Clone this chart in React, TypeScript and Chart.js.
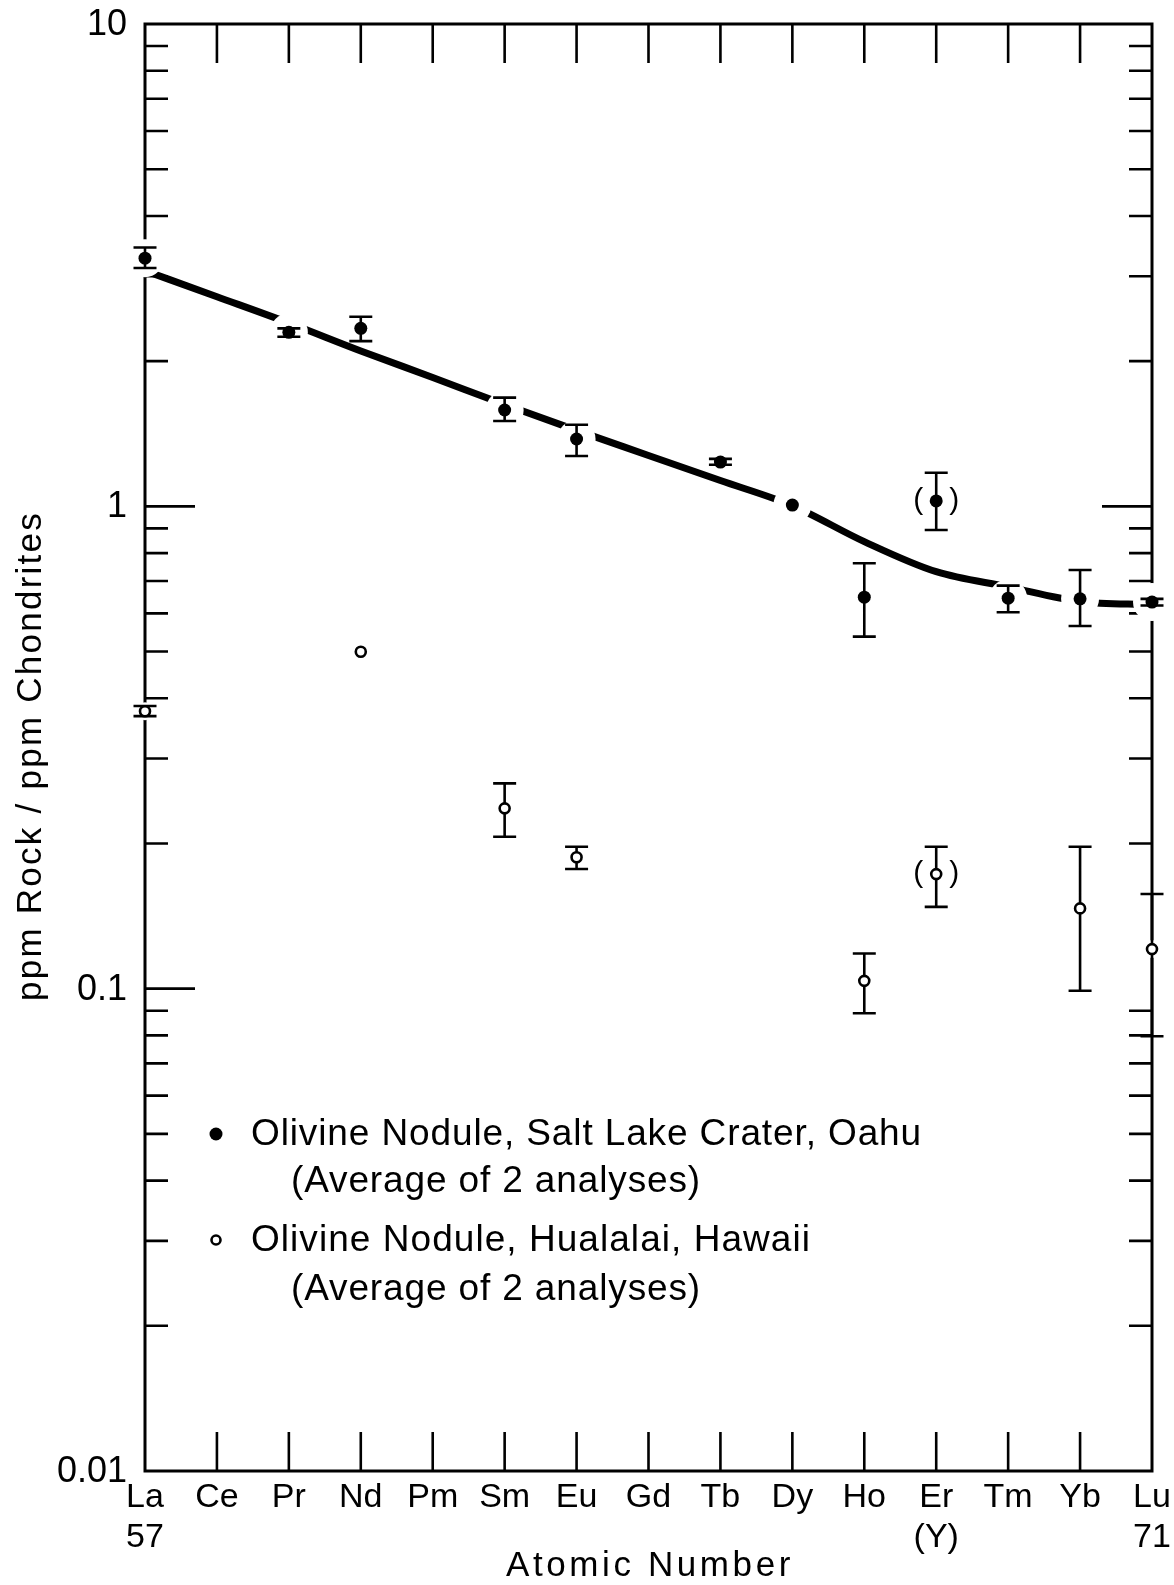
import React, { useEffect, useRef } from 'react';
import { Chart, registerables } from 'chart.js';

Chart.register(...registerables);

// ---------------- data ----------------
const ELEMENTS = ['La', 'Ce', 'Pr', 'Nd', 'Pm', 'Sm', 'Eu', 'Gd', 'Tb', 'Dy', 'Ho', 'Er', 'Tm', 'Yb', 'Lu'];
const SUBLABELS = ['57', '', '', '', '', '', '', '', '', '', '', '(Y)', '', '', '71'];
const Y_TICK_VALUES = [10, 1, 0.1, 0.01];
const Y_TICK_LABELS = ['10', '1', '0.1', '0.01'];

// Olivine nodule, Salt Lake Crater, Oahu (filled)
const OAHU = [3.27, null, 2.295, 2.339, null, 1.584, 1.379, null, 1.235, 1.006, 0.648, 1.026, 0.645, 0.643, 0.633];
const OAHU_LOW = [3.12, null, 2.247, 2.201, null, 1.503, 1.272, null, 1.22, null, 0.537, 0.893, 0.603, 0.565, 0.623];
const OAHU_HIGH = [3.44, null, 2.339, 2.472, null, 1.68, 1.476, null, 1.254, null, 0.762, 1.174, 0.685, 0.738, 0.643];

// Olivine nodule, Hualalai, Hawaii (open)
const HUALALAI = [0.376, null, null, 0.4995, null, 0.2365, 0.1872, null, null, null, 0.1038, 0.1728, null, 0.1467, 0.1208];
const HUALALAI_LOW = [0.3674, null, null, null, null, 0.2065, 0.177, null, null, null, 0.0889, 0.1478, null, 0.099, 0.0797];
const HUALALAI_HIGH = [0.3855, null, null, null, null, 0.2665, 0.1969, null, null, null, 0.1183, 0.1969, null, 0.1969, 0.1571];

// hand-drawn trend curve through the Oahu data
const TREND = [3.08, 2.72, 2.4, 2.1, 1.85, 1.626, 1.437, 1.275, 1.131, 1.003, 0.845, 0.732, 0.681, 0.635, 0.625];

// points marked as questionable (drawn in parentheses)
const QUESTIONABLE = ['Er'];

const LEGEND_1 = 'Olivine Nodule, Salt Lake Crater, Oahu';
const LEGEND_2 = 'Olivine Nodule, Hualalai, Hawaii';
const LEGEND_SUB = '(Average of 2 analyses)';
const X_TITLE = 'Atomic Number';
const Y_TITLE = 'ppm Rock / ppm Chondrites';

const FONT = '"Liberation Sans", Arial, sans-serif';

function fitText(ctx: CanvasRenderingContext2D, text: string, x: number, y: number, width: number) {
  (ctx as any).letterSpacing = '0px';
  const w = ctx.measureText(text).width;
  const n = Array.from(text).length;
  const ls = n > 1 ? (width - w) / n : 0;
  (ctx as any).letterSpacing = ls + 'px';
  ctx.textAlign = 'left';
  ctx.fillText(text, x, y);
  (ctx as any).letterSpacing = '0px';
}

const framePlugin = {
  id: 'frame',
  beforeDatasetsDraw(chart: any) {
    const ctx: CanvasRenderingContext2D = chart.ctx;
    const { left, right, top, bottom } = chart.chartArea;
    const xs = chart.scales.x;
    const ys = chart.scales.y;
    ctx.save();
    ctx.strokeStyle = '#000';
    ctx.fillStyle = '#000';
    ctx.lineWidth = 3;
    ctx.lineCap = 'butt';
    ctx.strokeRect(left, top, right - left, bottom - top);

    ctx.lineWidth = 2.6;
    ctx.beginPath();
    for (let i = 1; i < ELEMENTS.length - 1; i++) {
      const x = xs.getPixelForValue(i);
      ctx.moveTo(x, top);
      ctx.lineTo(x, top + 39);
      ctx.moveTo(x, bottom);
      ctx.lineTo(x, bottom - 39);
    }
    for (let e = -2; e <= 0; e++) {
      for (let m = 1; m <= 9; m++) {
        if (m === 1 && e === -2) continue;
        const v = m * Math.pow(10, e);
        const y = ys.getPixelForValue(v);
        const len = m === 1 ? 50 : 23;
        ctx.moveTo(left, y);
        ctx.lineTo(left + len, y);
        if (!(m === 1 && e === -1)) {
          ctx.moveTo(right, y);
          ctx.lineTo(right - len, y);
        }
      }
    }
    ctx.stroke();

    // x tick labels
    ctx.font = '34px ' + FONT;
    ctx.textAlign = 'center';
    ctx.textBaseline = 'middle';
    ELEMENTS.forEach((lab, i) => {
      const x = xs.getPixelForValue(i);
      ctx.fillText(lab, x, bottom + 27);
      if (SUBLABELS[i]) ctx.fillText(SUBLABELS[i], x, bottom + 67);
    });

    // y tick labels
    ctx.font = '36px ' + FONT;
    ctx.textAlign = 'right';
    Y_TICK_VALUES.forEach((v, i) => {
      const y = ys.getPixelForValue(v);
      ctx.fillText(Y_TICK_LABELS[i], left - 18, y + 1);
    });

    // axis titles
    ctx.font = '35px ' + FONT;
    ctx.textBaseline = 'middle';
    fitText(ctx, X_TITLE, 506, 1566, 288);
    ctx.save();
    ctx.translate(31, 756);
    ctx.rotate(-Math.PI / 2);
    fitText(ctx, Y_TITLE, -245, 0, 490);
    ctx.restore();

    // legend
    ctx.font = '37px ' + FONT;
    fitText(ctx, LEGEND_1, 251, 1135, 671);
    fitText(ctx, LEGEND_SUB, 291, 1182, 410);
    fitText(ctx, LEGEND_2, 251, 1241, 560);
    fitText(ctx, LEGEND_SUB, 291, 1290, 410);
    ctx.beginPath();
    ctx.arc(216, 1134, 6.5, 0, Math.PI * 2);
    ctx.fill();
    ctx.beginPath();
    ctx.lineWidth = 2.6;
    ctx.arc(216, 1240, 4.5, 0, Math.PI * 2);
    ctx.stroke();
    ctx.restore();
  },
  afterDatasetDraw(chart: any, args: any) {
    const ds = chart.data.datasets[args.index];
    if (ds.id !== 'haloSolid') return;
    const ctx: CanvasRenderingContext2D = chart.ctx;
    const xs = chart.scales.x;
    const ys = chart.scales.y;
    ctx.save();
    ctx.strokeStyle = '#000';
    ctx.lineWidth = 2.6;
    ctx.lineCap = 'butt';
    const drawBars = (lo: (number | null)[], hi: (number | null)[]) => {
      ctx.beginPath();
      lo.forEach((l, i) => {
        const h = hi[i];
        if (l == null || h == null) return;
        const x = xs.getPixelForValue(i);
        const y1 = ys.getPixelForValue(l);
        const y2 = ys.getPixelForValue(h);
        ctx.moveTo(x, y1);
        ctx.lineTo(x, y2);
        ctx.moveTo(x - 11.5, y1);
        ctx.lineTo(x + 11.5, y1);
        ctx.moveTo(x - 11.5, y2);
        ctx.lineTo(x + 11.5, y2);
      });
      ctx.stroke();
    };
    drawBars(OAHU_LOW, OAHU_HIGH);
    drawBars(HUALALAI_LOW, HUALALAI_HIGH);
    ctx.restore();
  },
  afterDatasetsDraw(chart: any) {
    const ctx: CanvasRenderingContext2D = chart.ctx;
    const xs = chart.scales.x;
    const ys = chart.scales.y;
    ctx.save();
    ctx.fillStyle = '#000';
    ctx.font = '30px ' + FONT;
    ctx.textAlign = 'center';
    ctx.textBaseline = 'middle';
    QUESTIONABLE.forEach((el) => {
      const i = ELEMENTS.indexOf(el);
      const x = xs.getPixelForValue(i);
      [OAHU[i], HUALALAI[i]].forEach((v) => {
        if (v == null) return;
        const y = ys.getPixelForValue(v);
        ctx.fillText('(', x - 18, y);
        ctx.fillText(')', x + 18, y);
      });
    });
    ctx.restore();
  },
};

// white gap around each filled point: wider where the trend curve passes through it
const haloRadius = (c: any) => {
  const i = c.dataIndex;
  const v = OAHU[i];
  const t = TREND[i];
  if (v == null || t == null) return 0;
  return Math.abs(Math.log10(v / t)) < 0.03 ? 19 : 11;
};

export default function App() {
  const ref = useRef<HTMLCanvasElement | null>(null);
  useEffect(() => {
    if (!ref.current) return;
    const chart = new Chart(ref.current, {
      type: 'line',
      data: {
        labels: ELEMENTS,
        datasets: [
          {
            id: 'trend',
            label: 'trend',
            data: TREND,
            borderColor: '#000',
            borderWidth: 7,
            pointRadius: 0,
            cubicInterpolationMode: 'monotone',
            borderCapStyle: 'round',
            fill: false,
            order: 5,
            clip: false,
          },
          {
            id: 'haloOpen',
            label: 'haloOpen',
            data: HUALALAI,
            showLine: false,
            pointRadius: 9,
            pointBackgroundColor: '#fff',
            pointBorderColor: '#fff',
            pointBorderWidth: 0,
            order: 4,
            clip: false,
          },
          {
            id: 'haloSolid',
            label: 'haloSolid',
            data: OAHU,
            showLine: false,
            pointRadius: haloRadius,
            pointBackgroundColor: '#fff',
            pointBorderColor: '#fff',
            pointBorderWidth: 0,
            order: 3,
            clip: false,
          },
          {
            id: 'hualalai',
            label: LEGEND_2,
            data: HUALALAI,
            showLine: false,
            pointRadius: 5,
            pointBackgroundColor: '#fff',
            pointBorderColor: '#000',
            pointBorderWidth: 2.6,
            order: 2,
            clip: false,
          },
          {
            id: 'oahu',
            label: LEGEND_1,
            data: OAHU,
            showLine: false,
            pointRadius: 6.5,
            pointBackgroundColor: '#000',
            pointBorderColor: '#000',
            pointBorderWidth: 0,
            order: 1,
            clip: false,
          },
        ] as any,
      },
      options: {
        responsive: false,
        animation: false,
        devicePixelRatio: 1,
        layout: { padding: { left: 145, right: 22, top: 24, bottom: 114 } },
        plugins: { legend: { display: false }, tooltip: { enabled: false }, title: { display: false } },
        scales: {
          x: { type: 'category', display: false, offset: false },
          y: { type: 'logarithmic', display: false, min: 0.01, max: 10 },
        },
      },
      plugins: [framePlugin as any],
    });
    return () => chart.destroy();
  }, []);
  return (
    <div style={{ position: 'absolute', left: 0, top: 0, width: 1174, height: 1585, background: '#fff' }}>
      <canvas ref={ref} width={1174} height={1585} style={{ display: 'block' }} />
    </div>
  );
}
